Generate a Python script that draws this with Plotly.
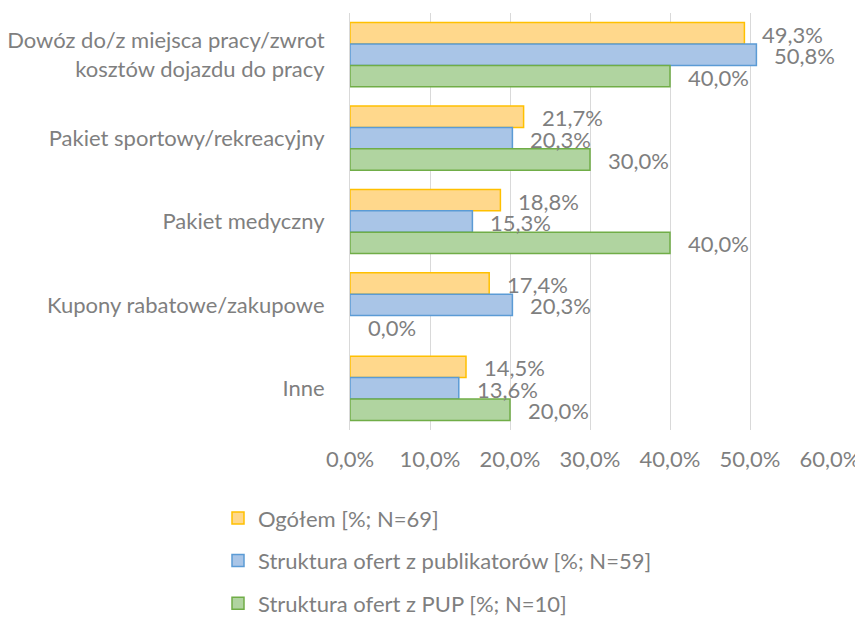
import plotly.graph_objects as go

categories = [
    "Dowóz do/z miejsca pracy/zwrot<br>kosztów dojazdu do pracy",
    "Pakiet sportowy/rekreacyjny",
    "Pakiet medyczny",
    "Kupony rabatowe/zakupowe",
    "Inne",
]
ogolem = [49.3, 21.7, 18.8, 17.4, 14.5]
publikatory = [50.8, 20.3, 15.3, 20.3, 13.6]
pup = [40.0, 30.0, 40.0, 0.0, 20.0]

series_names = [
    "Ogółem [%; N=69]",
    "Struktura ofert z publikatorów [%; N=59]",
    "Struktura ofert z PUP [%; N=10]",
]
tick_vals = [0, 10, 20, 30, 40, 50, 60]
tick_text = ["0,0%", "10,0%", "20,0%", "30,0%", "40,0%", "50,0%", "60,0%"]

fills = ["#FFD88C", "#A9C5E7", "#B0D4A0"]
lines = ["#FFC000", "#5B9BD5", "#70AD47"]
FONT = "Lato"
FS = 22
GRAY = "#7F7F7F"

def fmt(v):
    return f"{v:.1f}".replace(".", ",") + "%"

fig = go.Figure()
all_series = [ogolem, publikatory, pup]
for i, (name, vals) in enumerate(zip(series_names, all_series)):
    fig.add_trace(go.Bar(
        y=categories, x=vals, name=name, orientation="h",
        marker=dict(color=fills[i],
                    line=dict(color=lines[i],
                              width=[1.5 if v > 0 else 0 for v in vals])),
        legendgroup=f"g{i}",
        offsetgroup=str(i),
    ))

# data labels as annotations positioned at bar ends
for i, vals in enumerate(all_series):
    for j, v in enumerate(vals):
        fig.add_annotation(
            x=v, y=categories[j], text=fmt(v), showarrow=False,
            xanchor="left", xshift=16,
            yshift=(1 - i) * 21.4 - 1,
            font=dict(family=FONT, size=FS, color=GRAY),
        )

fig.update_layout(
    width=863, height=619,
    barmode="group", bargap=0.23, bargroupgap=0,
    plot_bgcolor="white", paper_bgcolor="white",
    margin=dict(l=342, r=41, t=5, b=197, autoexpand=False),
    font=dict(family=FONT, size=FS, color=GRAY),
    xaxis=dict(range=[0, 60], tickvals=tick_vals, ticktext=tick_text,
               showgrid=True, gridcolor="#D9D9D9", gridwidth=1,
               zeroline=False, showline=False, ticks="", tickangle=0,
               ticklabelstandoff=14, automargin=False,
               tickfont=dict(family=FONT, size=FS, color=GRAY)),
    yaxis=dict(autorange="reversed", showline=True, linecolor="#D9D9D9",
               linewidth=1, ticks="", ticklabelstandoff=20, automargin=False,
               tickfont=dict(family=FONT, size=FS, color=GRAY)),
    legend=dict(orientation="v",
                x=-0.275, xanchor="left", y=-0.161, yanchor="top",
                traceorder="grouped", tracegroupgap=11, itemwidth=30,
                font=dict(family=FONT, size=FS, color=GRAY)),
    showlegend=True,
)

fig.write_html("out.html")
